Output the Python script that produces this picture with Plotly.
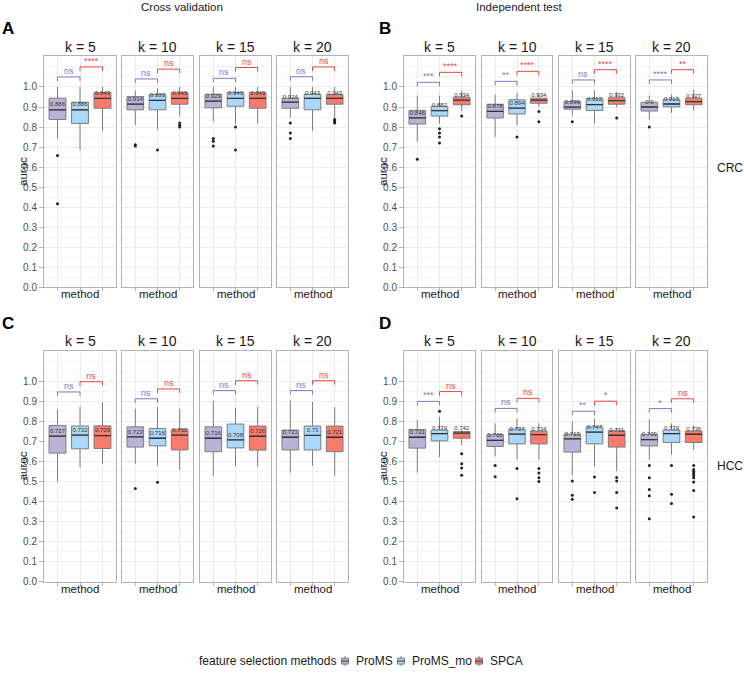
import plotly.graph_objects as go

W, H = 744, 679
FONT = "Liberation Sans, Arial, sans-serif"

methods = ["ProMS", "ProMS_mo", "SPCA"]
k_labels = ["k = 5", "k = 10", "k = 15", "k = 20"]

# ---- A: cross validation, CRC  (rows = k, cols = method)
A_hi = [[1.0, 1.0, 1.0], [0.982, 0.993, 1.0], [1.0, 1.0, 1.0], [1.0, 1.0, 1.0]]
A_q3 = [[0.944, 0.924, 0.972], [0.952, 0.962, 0.972], [0.964, 0.972, 0.972], [0.944, 0.964, 0.962]]
A_med = [[0.886, 0.886, 0.943], [0.914, 0.933, 0.943], [0.929, 0.943, 0.943], [0.924, 0.943, 0.943]]
A_q1 = [[0.838, 0.818, 0.894], [0.886, 0.886, 0.914], [0.896, 0.904, 0.894], [0.894, 0.886, 0.914]]
A_lo = [[0.743, 0.685, 0.78], [0.809, 0.79, 0.855], [0.828, 0.817, 0.817], [0.847, 0.782, 0.847]]
A_out = [[[0.658, 0.417], [], []],
         [[0.712, 0.705], [0.685], [0.82, 0.809, 0.8]],
         [[0.743, 0.729, 0.706], [0.80, 0.685], []],
         [[0.82, 0.771, 0.743], [], [0.838, 0.83, 0.825, 0.82]]]
A_sig = [["ns", "****"], ["ns", "ns"], ["ns", "ns"], ["ns", "ns"]]
A_brk = [[1.05, 1.10], [1.04, 1.089], [1.043, 1.097], [1.051, 1.10]]

# ---- B: independent test, CRC
B_hi = [[0.957, 0.957, 0.982], [0.962, 0.97, 0.965], [0.985, 0.982, 0.974], [0.957, 0.962, 0.987]]
B_q3 = [[0.883, 0.904, 0.949], [0.914, 0.936, 0.944], [0.927, 0.942, 0.946], [0.924, 0.939, 0.944]]
B_med = [[0.846, 0.882, 0.934], [0.878, 0.894, 0.934], [0.899, 0.912, 0.932], [0.9, 0.915, 0.927]]
B_q1 = [[0.815, 0.855, 0.911], [0.845, 0.865, 0.919], [0.889, 0.883, 0.914], [0.88, 0.901, 0.911]]
B_lo = [[0.726, 0.817, 0.88], [0.751, 0.809, 0.9], [0.858, 0.817, 0.9], [0.837, 0.871, 0.883]]
B_out = [[[0.639], [0.792, 0.771, 0.75, 0.721], [0.855]],
         [[], [0.75], [0.878, 0.827]],
         [[0.827], [], [0.845]],
         [[0.80], [], []]]
B_sig = [["***", "****"], ["**", "****"], ["ns", "****"], ["****", "**"]]
B_brk = [[1.023, 1.073], [1.028, 1.078], [1.035, 1.086], [1.035, 1.086]]

# ---- C: cross validation, HCC
C_hi = [[0.86, 0.872, 0.895], [0.864, 0.872, 0.864], [0.901, 0.869, 0.872], [0.905, 0.897, 0.872]]
C_q3 = [[0.78, 0.777, 0.778], [0.773, 0.765, 0.76], [0.773, 0.787, 0.777], [0.757, 0.777, 0.777]]
C_med = [[0.727, 0.732, 0.729], [0.723, 0.716, 0.732], [0.716, 0.708, 0.726], [0.721, 0.73, 0.721]]
C_q1 = [[0.642, 0.663, 0.665], [0.672, 0.678, 0.658], [0.649, 0.668, 0.657], [0.658, 0.658, 0.649]]
C_lo = [[0.5, 0.571, 0.588], [0.589, 0.58, 0.557], [0.527, 0.576, 0.576], [0.544, 0.58, 0.53]]
C_out = [[[], [], []], [[0.465], [0.497], []], [[], [], []], [[], [], []]]
C_sig = [["ns", "ns"], ["ns", "ns"], ["ns", "ns"], ["ns", "ns"]]
C_brk = [[0.947, 0.998], [0.913, 0.962], [0.954, 1.003], [0.954, 1.003]]

# ---- D: independent test, HCC
D_hi = [[0.806, 0.823, 0.76], [0.79, 0.814, 0.79], [0.801, 0.814, 0.765], [0.81, 0.79, 0.782]]
D_q3 = [[0.76, 0.757, 0.75], [0.734, 0.762, 0.752], [0.737, 0.773, 0.754], [0.736, 0.757, 0.752]]
D_med = [[0.721, 0.739, 0.742], [0.706, 0.737, 0.734], [0.713, 0.747, 0.731], [0.709, 0.739, 0.736]]
D_q1 = [[0.667, 0.703, 0.716], [0.675, 0.688, 0.688], [0.647, 0.688, 0.672], [0.678, 0.695, 0.695]]
D_lo = [[0.544, 0.622, 0.683], [0.626, 0.609, 0.609], [0.53, 0.576, 0.552], [0.609, 0.634, 0.658]]
D_out = [[[], [0.851], [0.639, 0.589, 0.568, 0.532]],
         [[0.58, 0.524], [0.565, 0.414], [0.565, 0.543, 0.519, 0.501]],
         [[0.503, 0.432, 0.412], [0.523, 0.445], [0.52, 0.503, 0.445, 0.368]],
         [[0.58, 0.519, 0.461, 0.429, 0.314], [0.58, 0.437, 0.391],
          [0.58, 0.56, 0.55, 0.54, 0.53, 0.519, 0.498, 0.456, 0.323]]]
D_sig = [["***", "ns"], ["ns", "ns"], ["**", "*"], ["*", "ns"]]
D_brk = [[0.9, 0.949], [0.865, 0.915], [0.851, 0.901], [0.864, 0.913]]

panels = [
    dict(letter="A", hi=A_hi, q3=A_q3, med=A_med, q1=A_q1, lo=A_lo, out=A_out, sig=A_sig, brk=A_brk),
    dict(letter="B", hi=B_hi, q3=B_q3, med=B_med, q1=B_q1, lo=B_lo, out=B_out, sig=B_sig, brk=B_brk),
    dict(letter="C", hi=C_hi, q3=C_q3, med=C_med, q1=C_q1, lo=C_lo, out=C_out, sig=C_sig, brk=C_brk),
    dict(letter="D", hi=D_hi, q3=D_q3, med=D_med, q1=D_q1, lo=D_lo, out=D_out, sig=D_sig, brk=D_brk),
]

fills = {"ProMS": "#bab3d7", "ProMS_mo": "#aad8fb", "SPCA": "#fa7b6b"}
brk_colors = ["#8076c9", "#e8473e"]

# pixel layout of the facets
col_px = [[(44, 116), (122, 193), (200, 271), (277, 348)],
          [(404, 475), (482, 552), (559, 630), (636, 707)]]
row_px = [(57, 290), (354, 587)]
YMAX = 1.152


def px(x):
    return x / W


def py(y):
    return 1 - y / H


def label(x, y, text, size, color="#1a1a1a", **kw):
    d = dict(x=px(x), y=py(y), xref="paper", yref="paper", text=text, showarrow=False,
             xanchor="center", yanchor="middle", font=dict(size=size, color=color, family=FONT))
    d.update(kw)
    return d


fig = go.Figure()
axes = {}
ann = []
shapes = []
n = 0
for p, pan in enumerate(panels):
    r, c = p // 2, p % 2
    top, bot = row_px[r]
    for j in range(4):
        n += 1
        sx = "" if n == 1 else str(n)
        xa, ya = "x" + sx, "y" + sx
        x0, x1 = col_px[c][j]
        axes["xaxis" + sx] = dict(
            domain=[px(x0), px(x1)], anchor=ya, range=[0.4, 3.6],
            tickvals=[1, 2, 3], ticktext=["", "", ""], ticks="outside", ticklen=3,
            tickcolor="#b3b3b3", showgrid=True, gridcolor="#ebebeb", gridwidth=1,
            showline=True, mirror=True, linecolor="#b3b3b3", linewidth=1, zeroline=False,
            fixedrange=True)
        first = j == 0
        axes["yaxis" + sx] = dict(
            domain=[py(bot), py(top)], anchor=xa, range=[0, YMAX],
            tickvals=[i / 10 for i in range(11)],
            ticktext=[f"{i / 10:.1f}" for i in range(11)] if first else [""] * 11,
            ticks="outside" if first else "", ticklen=4, tickcolor="#b3b3b3",
            tickfont=dict(size=10, color="#4d4d4d"),
            showgrid=True, gridcolor="#ebebeb", gridwidth=1,
            minor=dict(dtick=0.05, tick0=0.05, showgrid=True, gridcolor="#f4f4f4", ticks=""),
            showline=True, mirror=True, linecolor="#b3b3b3", linewidth=1, zeroline=False,
            fixedrange=True)

        for m, name in enumerate(methods):
            xc = m + 1
            fig.add_trace(go.Box(
                x=[xc], q1=[pan["q1"][j][m]], median=[pan["med"][j][m]], q3=[pan["q3"][j][m]],
                lowerfence=[pan["lo"][j][m]], upperfence=[pan["hi"][j][m]],
                width=0.75, whiskerwidth=0, fillcolor=fills[name],
                line=dict(color="#7d7d7d", width=1), name=name,
                showlegend=False, boxpoints=False, hoverinfo="skip",
                xaxis=xa, yaxis=ya))
            med = pan["med"][j][m]
            fig.add_trace(go.Scatter(
                x=[xc - 0.375, xc + 0.375], y=[med, med], mode="lines",
                line=dict(color="#333333", width=1.3), showlegend=False,
                hoverinfo="skip", xaxis=xa, yaxis=ya))
            fig.add_trace(go.Scatter(
                x=[xc], y=[med + 0.024], mode="text", text=[f"{med:g}"],
                textfont=dict(size=6, color="#333333", family=FONT),
                showlegend=False, hoverinfo="skip", xaxis=xa, yaxis=ya))
            outs = pan["out"][j][m]
            if outs:
                fig.add_trace(go.Scatter(
                    x=[xc] * len(outs), y=outs, mode="markers",
                    marker=dict(color="#222222", size=3), showlegend=False,
                    hoverinfo="skip", xaxis=xa, yaxis=ya))

        # significance brackets
        for b in range(2):
            h = pan["brk"][j][b]
            fig.add_trace(go.Scatter(
                x=[b + 1, b + 1, b + 2, b + 2], y=[h - 0.02, h, h, h - 0.02], mode="lines",
                line=dict(color=brk_colors[b], width=1), showlegend=False,
                hoverinfo="skip", xaxis=xa, yaxis=ya))
            ann.append(dict(x=b + 1.5, y=h, xref=xa, yref=ya, text=pan["sig"][j][b],
                            showarrow=False, xanchor="center", yanchor="bottom", yshift=-1,
                            font=dict(size=9, color=brk_colors[b], family=FONT)))

        # strip label and x title
        ann.append(label((x0 + x1) / 2, top - 10, k_labels[j], 14))
        ann.append(label((x0 + x1) / 2, bot + 7, "method", 11.5))

    # panel letter and y title
    ann.append(label(8 if c == 0 else 385, top - 28, "<b>" + pan["letter"] + "</b>", 17, "black"))
    ann.append(label(23 if c == 0 else 383, (top + bot) / 2, "auroc", 11.5, textangle=-90))

# column and row titles
ann.append(label(182, 7, "Cross validation", 11.5))
ann.append(label(519, 7, "Independent test", 11.5))
ann.append(label(730, 170, "CRC", 12))
ann.append(label(730, 470, "HCC", 12))

# legend drawn by hand to copy the ggplot key
LEG_Y = 667
ann.append(label(197, LEG_Y, "feature selection methods", 12, xanchor="left"))
glyph_x = [345, 401, 479]
for m, name in enumerate(methods):
    gx = glyph_x[m]
    shapes.append(dict(type="line", xref="paper", yref="paper", x0=px(gx), x1=px(gx),
                       y0=py(LEG_Y - 5), y1=py(LEG_Y + 5), line=dict(color="#7d7d7d", width=1)))
    shapes.append(dict(type="rect", xref="paper", yref="paper", x0=px(gx - 3.5), x1=px(gx + 3.5),
                       y0=py(LEG_Y - 3), y1=py(LEG_Y + 3), fillcolor=fills[name],
                       line=dict(color="#7d7d7d", width=1)))
    shapes.append(dict(type="line", xref="paper", yref="paper", x0=px(gx - 3.5), x1=px(gx + 3.5),
                       y0=py(LEG_Y), y1=py(LEG_Y), line=dict(color="#333333", width=1)))
    ann.append(label(gx + 9, LEG_Y, name, 12, xanchor="left"))

fig.update_layout(
    width=W, height=H, margin=dict(l=0, r=0, t=0, b=0),
    paper_bgcolor="white", plot_bgcolor="white",
    font=dict(family=FONT, color="#1a1a1a"),
    annotations=ann, shapes=shapes, boxmode="overlay", showlegend=False,
    **axes)

# drop the browser's default 8px body margin so the figure sits at the window corner
fig.write_html("out.html", config={"displayModeBar": False},
               post_script="document.body.style.margin='0px';")
